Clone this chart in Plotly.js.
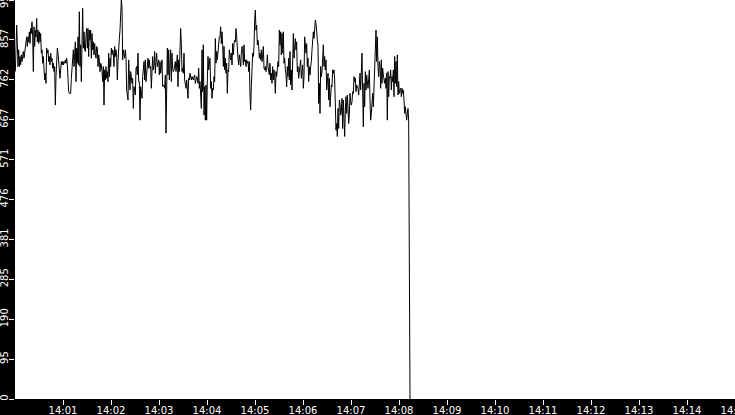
<!DOCTYPE html>
<html>
<head>
<meta charset="utf-8">
<script src="https://cdn.plot.ly/plotly-3.0.1.min.js"></script>
<style>
html,body{margin:0;padding:0;background:#000;}
#chart{width:735px;height:415px;}
</style>
</head>
<body>
<div id="chart"></div>
<script>
// Sampling of the series: first sample time and interval
const seriesStart = Date.UTC(2024, 0, 1, 14, 0, 0, 417);
const sampleIntervalMs = 833.33;

// Series values
const seriesValues = [
782,834,893,849,794,834,794,818,798,822,806,818,830,814,826,842,857,
865,842,865,853,877,849,885,873,901,865,782,889,842,881,865,909,853,881,849,877,853,873,826,834,802,818,794,762,778,754,838,826,834,806,818,798,826,806,814,790,802,782,794,702,770,818,838,826,794,790,766,786,806,798,806,798,806,802,810,802,814,798,758,734,730,730,730,766,802,810,834,794,849,853,758,838,802,865,798,925,794,846,758,873,933,838,877,834,830,869,885,838,885,818,881,857,881,814,873,834,853,822,849,826,814,842,838,794,822,810,782,802,798,782,758,794,702,786,762,794,766,782,758,826,770,814,794,838,822,834,826,794,842,818,834,822,762,806,849,861,881,921,953,937,810,834,822,814,834,814,738,722,714,810,758,738,782,762,754,766,694,746,738,726,790,794,774,826,758,758,666,746,734,718,770,786,806,762,810,758,786,806,814,790,810,790,794,742,798,818,786,798,830,778,806,826,794,806,810,774,806,778,802,810,746,750,750,742,774,635,742,838,774,834,762,798,834,758,826,790,782,786,794,806,782,798,822,746,810,782,849,885,849,782,790,778,826,762,754,742,762,738,718,766,762,778,766,762,770,762,762,770,774,754,762,770,766,754,790,742,758,730,694,834,734,846,678,746,666,750,666,762,818,786,798,814,742,758,718,742,738,770,758,861,802,830,810,826,853,865,
865,889,849,877,846,794,842,786,814,778,802,730,786,782,834,814,810,826,798,849,822,849,857,853,885,865,826,814,798,822,810,794,826,842,838,798,846,806,810,794,810,802,806,782,806,722,690,746,786,826,818,842,905,929,881,893,846,857,842,814,826,810,834,806,822,842,790,786,794,782,790,822,794,782,774,802,762,778,754,794,762,786,770,730,782,770,786,806,794,881,846,877,822,873,826,877,802,814,786,774,746,794,770,814,762,830,750,786,738,814,873,814,834,861,834,853,782,794,766,786,790,810,766,798,798,742,770,865,849,826,849,794,814,758,794,774,794,806,834,865,877,861,893,905,897,861,857,846,706,754,682,794,770,782,826,846,794,818,786,810,738,758,778,714,766,698,730,750,746,786,778,786,762,674,642,658,627,694,646,714,706,678,686,718,646,714,646,627,690,722,682,726,698,658,678,730,710,702,710,734,730,770,758,766,734,750,746,742,726,758,778,738,778,826,730,650,754,698,782,738,774,762,742,762,786,714,666,682,698,730,698,750,782,810,881,806,865,794,770,806,798,742,810,754,790,774,762,754,766,742,778,666,782,722,770,766,786,738,770,758,786,722,818,754,806,746,822,726,758,730,738,742,722,742,730,738,714,682,698,674,666,682,694,666,
349,0
];

// Axis ticks
const yTickVals = [0, 95.3, 190.6, 285.9, 381.2, 476.5, 571.8, 667.1, 762.4, 857.7, 953];
const yTickText = ['0','95','190','285','381','476','571','667','762','857','953'];
const xTickMinutes = [1,2,3,4,5,6,7,8,9,10,11,12,13,14,15];
const xRangeStart = Date.UTC(2024, 0, 1, 14, 0, 0);
const xRangeEnd = Date.UTC(2024, 0, 1, 14, 15, 0);

const seriesTimes = seriesValues.map((v, i) => seriesStart + i * sampleIntervalMs);
const xTickVals = xTickMinutes.map(m => Date.UTC(2024, 0, 1, 14, m, 0));

const trace = {
  x: seriesTimes,
  y: seriesValues,
  type: 'scatter',
  mode: 'lines',
  line: {color: '#000', width: 1},
  hoverinfo: 'none'
};

const tickFont = {family: 'DejaVu Sans', size: 10, color: '#fff'};

const layout = {
  width: 735,
  height: 415,
  paper_bgcolor: '#000',
  plot_bgcolor: '#fff',
  margin: {l: 15, r: 0, t: 0, b: 16, pad: 0},
  showlegend: false,
  xaxis: {
    type: 'date',
    range: [xRangeStart, xRangeEnd],
    tickmode: 'array',
    tickvals: xTickVals,
    tickformat: '%H:%M',
    ticks: 'outside',
    ticklen: 5,
    tickwidth: 1,
    tickcolor: '#fff',
    tickfont: tickFont,
    ticklabelstandoff: -3,
    ticklabeloverflow: 'allow',
    showgrid: false,
    zeroline: false,
    showline: false,
    fixedrange: true
  },
  yaxis: {
    range: [0, 953],
    tickmode: 'array',
    tickvals: yTickVals,
    ticktext: yTickText,
    tickangle: -90,
    ticks: 'outside',
    ticklen: 5,
    tickwidth: 1,
    tickcolor: '#fff',
    tickfont: tickFont,
    ticklabelstandoff: -3,
    ticklabeloverflow: 'allow',
    showgrid: false,
    zeroline: false,
    showline: false,
    fixedrange: true
  }
};

Plotly.newPlot('chart', [trace], layout, {displayModeBar: false, staticPlot: true});
</script>
</body>
</html>
